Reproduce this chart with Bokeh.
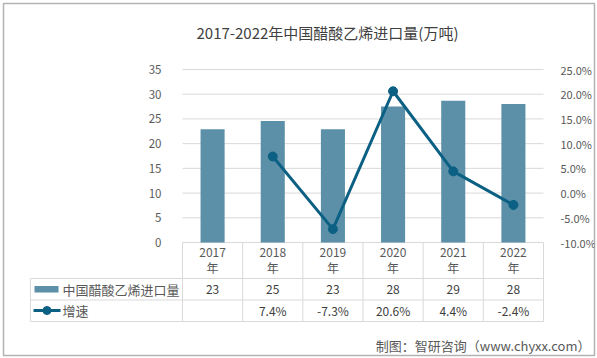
from bokeh.plotting import figure
from bokeh.models import (Range1d, LinearAxis, FixedTicker, NumeralTickFormatter,
                          GlobalInlineStyleSheet)
from bokeh.core.properties import value
from bokeh.embed import file_html
from bokeh.resources import INLINE

# ---------------- data ----------------
years = ["2017", "2018", "2019", "2020", "2021", "2022"]
year_suffix = "年"
volume = [22.9, 24.6, 22.9, 27.5, 28.7, 28.0]
volume_labels = ["23", "25", "23", "28", "29", "28"]
growth_years = ["2018", "2019", "2020", "2021", "2022"]
growth = [7.4, -7.3, 20.6, 4.4, -2.4]
growth_labels = ["", "7.4%", "-7.3%", "20.6%", "4.4%", "-2.4%"]
left_ticks = [0, 5, 10, 15, 20, 25, 30, 35]
right_ticks = [-10, -5, 0, 5, 10, 15, 20, 25]
series_names = ["中国醋酸乙烯进口量", "增速"]
title_text = "2017-2022年中国醋酸乙烯进口量(万吨)"
source_text = "制图：智研咨询（www.chyxx.com）"

# ---------------- layout helpers (page pixels -> data units) ----------------
W, H = 597, 358
X0, X1 = 182, 543          # category area, page px
Y0, YTOP = 242, 69         # value 0 and value 35, page px
n = len(years)
sx = (X1 - X0) / n
sy = (Y0 - YTOP) / float(left_ticks[-1])


def dx(px):
    return (px - X0) / sx


def dy(py):
    return (Y0 - py) / sy


FONT = value("Noto Sans CJK SC")
BAR = "#5B90A8"
LINE = "#0C6083"
GRID = "#d9d9d9"
TXT = "#595959"

left_lo, left_hi = dy(355), dy(3)
offset = right_ticks[0] - left_ticks[0]   # -10
p = figure(width=W, height=H, output_backend="svg", toolbar_location=None,
           x_axis_type=None, y_axis_type=None,
           x_range=Range1d(dx(3), dx(594)), y_range=Range1d(left_lo, left_hi),
           min_border_left=3, min_border_right=3, min_border_top=3, min_border_bottom=3,
           background_fill_color="white", border_fill_color="white")
p.extra_y_ranges = {"pct": Range1d((left_lo + offset) / 100.0, (left_hi + offset) / 100.0)}
p.outline_line_color = "#b3b3b3"
p.outline_line_width = 1.5
p.stylesheets = [GlobalInlineStyleSheet(css="html, body { margin: 0 !important; padding: 0 !important; }")]

xs = [i + 0.5 for i in range(n)]

# gridlines
p.segment(x0=[0] * len(left_ticks), x1=[n] * len(left_ticks), y0=left_ticks, y1=left_ticks,
          line_color=GRID, line_width=1)

# axes
ly = LinearAxis(ticker=FixedTicker(ticks=left_ticks), fixed_location=0,
                axis_line_color=None, major_tick_line_color=None, minor_tick_line_color=None,
                major_label_standoff=15, major_label_text_font_size="11.5px",
                major_label_text_color=TXT, major_label_text_font="Noto Sans CJK SC")
p.add_layout(ly, "left")
ry = LinearAxis(y_range_name="pct", ticker=FixedTicker(ticks=[t / 100.0 for t in right_ticks]),
                formatter=NumeralTickFormatter(format="0.0%"), fixed_location=n,
                axis_line_color=None, major_tick_line_color=None, minor_tick_line_color=None,
                major_label_standoff=11, major_label_text_font_size="11px",
                major_label_text_color=TXT, major_label_text_font="Noto Sans CJK SC")
p.add_layout(ry, "right")

# bars
p.vbar(x=xs, width=0.4, top=volume, bottom=0, fill_color=BAR, line_color=None)

# growth line
gx = [years.index(y) + 0.5 for y in growth_years]
gy = [g / 100.0 for g in growth]
p.line(x=gx, y=gy, y_range_name="pct", line_color=LINE, line_width=3)
p.scatter(x=gx, y=gy, y_range_name="pct", marker="circle", size=9,
          fill_color=LINE, line_color=LINE)

# table lines
hy = [dy(278), dy(299.5), dy(321)]
p.segment(x0=[dx(30)] * 3, x1=[n] * 3, y0=hy, y1=hy, line_color=GRID, line_width=1)
p.segment(x0=list(range(n + 1)), x1=list(range(n + 1)), y0=[0] * (n + 1), y1=[dy(321)] * (n + 1),
          line_color=GRID, line_width=1)
p.segment(x0=[dx(30)], x1=[dx(30)], y0=[dy(278)], y1=[dy(321)], line_color=GRID, line_width=1)

# header labels
p.text(x=xs, y=[dy(252)] * n, text=years, text_align="center", text_baseline="middle",
       text_font=FONT, text_font_size="12px", text_color=TXT)
p.text(x=xs, y=[dy(267)] * n, text=[year_suffix] * n, text_align="center", text_baseline="middle",
       text_font=FONT, text_font_size="12px", text_color=TXT)

# row 1 : volume
p.quad(left=[dx(34)], right=[dx(58)], bottom=[dy(292)], top=[dy(285.5)], fill_color=BAR, line_color=None)
p.text(x=[dx(62)], y=[dy(289)], text=[series_names[0]], text_align="left", text_baseline="middle",
       text_font=FONT, text_font_size="13px", text_color=TXT)
p.text(x=xs, y=[dy(289)] * n, text=volume_labels, text_align="center", text_baseline="middle",
       text_font=FONT, text_font_size="12px", text_color="#404040")

# row 2 : growth
p.segment(x0=[dx(33)], x1=[dx(60)], y0=[dy(310)], y1=[dy(310)], line_color=LINE, line_width=3)
p.scatter(x=[dx(46.5)], y=[dy(310)], marker="circle", size=8, fill_color=LINE, line_color=LINE)
p.text(x=[dx(62)], y=[dy(310)], text=[series_names[1]], text_align="left", text_baseline="middle",
       text_font=FONT, text_font_size="13px", text_color=TXT)
p.text(x=xs, y=[dy(310)] * n, text=growth_labels, text_align="center", text_baseline="middle",
       text_font=FONT, text_font_size="12px", text_color="#404040")

# title and source
p.text(x=[dx(327)], y=[dy(32)], text=[title_text], text_align="center", text_baseline="middle",
       text_font=FONT, text_font_size="15px", text_color="#404040")
p.text(x=[dx(590)], y=[dy(345)], text=[source_text], text_align="right", text_baseline="middle",
       text_font=FONT, text_font_size="13px", text_color=TXT)

open("out.html", "w").write(file_html(p, INLINE))
